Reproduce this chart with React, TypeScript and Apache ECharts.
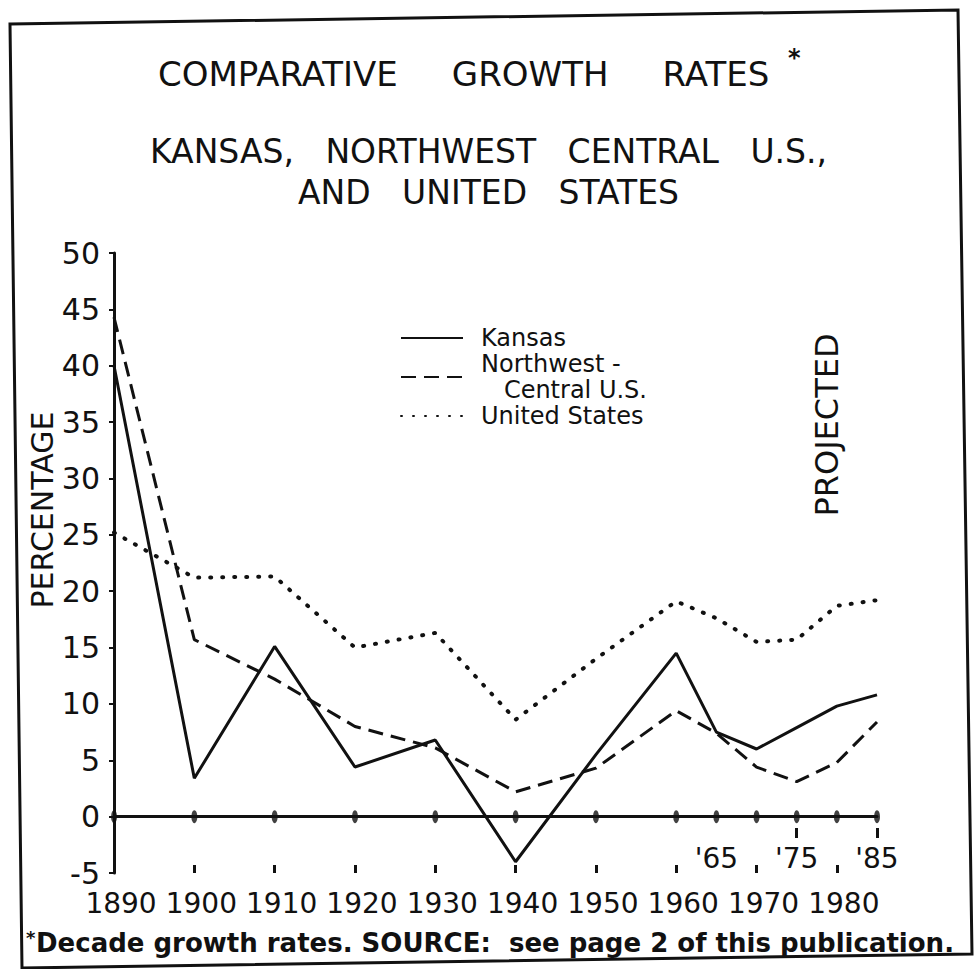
import React, { useEffect, useRef } from "react";
import * as echarts from "echarts";

// ---- data ----
const years = [1890, 1900, 1910, 1920, 1930, 1940, 1950, 1960, 1965, 1970, 1975, 1980, 1985];
const kansas = [40.0, 3.4, 15.1, 4.4, 6.8, -4.0, 5.5, 14.5, 7.5, 6.0, 7.9, 9.8, 10.8];
const nwCentral = [44.3, 15.7, 12.2, 8.0, 6.1, 2.2, 4.3, 9.4, 7.4, 4.4, 3.1, 4.8, 8.4];
const unitedStates = [25.2, 21.2, 21.3, 15.0, 16.3, 8.6, 14.0, 19.1, 17.6, 15.5, 15.7, 18.7, 19.2];
const seriesNames = ["Kansas", "Northwest -\n   Central U.S.", "United States"];
const decadeYears = [1890, 1900, 1910, 1920, 1930, 1940, 1950, 1960, 1970, 1980];
const projectedYears = [1965, 1975, 1985];
const projectedMarkYears = [1975, 1985];
const xMin = 1890;
const xMax = 1985;
const yMin = -5;
const yMax = 50;
const yStep = 5;
const titleText = "COMPARATIVE     GROWTH     RATES";
const subtitleText = "KANSAS,   NORTHWEST   CENTRAL   U.S.,\nAND   UNITED   STATES";
const yAxisTitle = "PERCENTAGE";
const projectedLabel = "PROJECTED";
const footnote = "Decade growth rates. SOURCE:  see page 2 of this publication.";

const ink = "#111";
const font = "DejaVu Sans";

export default function App() {
  const ref = useRef<HTMLDivElement>(null);

  useEffect(() => {
    if (!ref.current) return;
    const chart = echarts.init(ref.current, undefined, { renderer: "svg" });
    const pair = (vals: number[]) => years.map((y, i) => [y, vals[i]]);
    const baseX = {
      type: "value",
      min: xMin,
      max: xMax,
      position: "bottom",
      splitLine: { show: false },
    };
    const option: any = {
      animation: false,
      backgroundColor: "#fff",
      color: [ink, ink, ink],
      title: [
        {
          text: titleText,
          left: 153,
          top: 52,
          textStyle: { fontFamily: font, fontSize: 34, fontWeight: "normal", color: ink },
        },
        {
          text: subtitleText,
          left: "center",
          top: 126,
          textStyle: { fontFamily: font, fontSize: 33, fontWeight: "normal", color: ink, lineHeight: 41 },
        },
      ],
      grid: { left: 114, right: 100, top: 253, bottom: 96, containLabel: false },
      legend: {
        orient: "vertical",
        left: 400,
        top: 325,
        itemWidth: 62,
        itemHeight: 2,
        itemGap: 0,
        padding: 0,
        selectedMode: false,
        data: seriesNames,
        itemStyle: { opacity: 0 },
        textStyle: {
          fontFamily: font,
          fontSize: 24,
          color: ink,
          lineHeight: 26,
          padding: [0, 0, 0, 13],
        },
      },
      xAxis: [
        {
          ...baseX,
          axisLine: { show: true, onZero: true, lineStyle: { color: ink, width: 3 } },
          axisTick: { show: false },
          axisLabel: { show: false },
        },
        {
          ...baseX,
          axisLine: { show: false, onZero: false },
          axisTick: {
            show: true,
            inside: true,
            length: 8,
            customValues: decadeYears,
            lineStyle: { color: ink, width: 3 },
          },
          axisLabel: {
            customValues: decadeYears,
            fontFamily: font,
            fontSize: 28,
            color: ink,
            margin: 16,
            padding: [0, 0, 0, 14],
            formatter: (v: number) => String(v),
          },
        },
        {
          ...baseX,
          axisLine: { show: false, onZero: false },
          axisTick: { show: false },
          axisLabel: {
            inside: true,
            margin: 1,
            customValues: projectedYears,
            fontFamily: font,
            fontSize: 28,
            color: ink,
            formatter: (v: number) => "'" + String(v).slice(2),
          },
        },
        {
          ...baseX,
          offset: -35,
          axisLine: { show: false, onZero: false },
          axisTick: {
            show: true,
            inside: true,
            length: 10,
            customValues: projectedMarkYears,
            lineStyle: { color: ink, width: 3 },
          },
          axisLabel: { show: false },
        },
      ],
      yAxis: {
        type: "value",
        min: yMin,
        max: yMax,
        interval: yStep,
        position: "left",
        axisLine: { show: true, onZero: false, lineStyle: { color: ink, width: 3 } },
        axisTick: { show: true, length: 5, lineStyle: { color: ink, width: 2 } },
        axisLabel: { fontFamily: font, fontSize: 30, color: ink, margin: 14 },
        splitLine: { show: false },
      },
      series: [
        {
          name: seriesNames[0],
          type: "line",
          data: pair(kansas),
          symbol: "none",
          lineStyle: { color: ink, width: 3, type: "solid" },
          itemStyle: { color: ink },
          z: 3,
        },
        {
          name: seriesNames[1],
          type: "line",
          data: pair(nwCentral),
          symbol: "none",
          lineStyle: { color: ink, width: 3, type: [15, 8] },
          itemStyle: { color: ink },
          z: 3,
        },
        {
          name: seriesNames[2],
          type: "line",
          data: pair(unitedStates),
          symbol: "none",
          lineStyle: { color: ink, width: 4, type: [1, 11], cap: "round" },
          itemStyle: { color: ink },
          z: 3,
        },
        {
          type: "scatter",
          data: years.map((y) => [y, 0]),
          symbol: "circle",
          symbolSize: [6, 13],
          itemStyle: { color: ink },
          silent: true,
          z: 4,
        },
      ],
      graphic: [
        {
          type: "polygon",
          silent: true,
          shape: { points: [[10, 24], [958, 10], [972, 954], [22, 968]] },
          style: { fill: "none", stroke: ink, lineWidth: 3 },
        },
        {
          type: "text",
          x: 42,
          y: 510,
          rotation: Math.PI / 2,
          style: {
            text: yAxisTitle,
            fontFamily: font,
            fontSize: 30,
            fill: ink,
            align: "center",
            verticalAlign: "middle",
          },
        },
        {
          type: "text",
          x: 827,
          y: 425,
          rotation: Math.PI / 2,
          style: {
            text: projectedLabel,
            fontFamily: font,
            fontSize: 32,
            fill: ink,
            align: "center",
            verticalAlign: "middle",
          },
        },
        {
          type: "text",
          x: 788,
          y: 46,
          style: { text: "*", fontFamily: font, fontSize: 24, fontWeight: "bold", fill: ink },
        },
        {
          type: "text",
          x: 26,
          y: 928,
          style: { text: "*", fontFamily: font, fontSize: 18, fontWeight: "bold", fill: ink },
        },
        {
          type: "text",
          x: 36,
          y: 943,
          style: {
            text: footnote,
            fontFamily: font,
            fontSize: 26,
            fontWeight: "bold",
            fill: ink,
            align: "left",
            verticalAlign: "middle",
          },
        },
      ],
    };
    chart.setOption(option);
    return () => chart.dispose();
  }, []);

  return (
    <div
      ref={ref}
      style={{ position: "fixed", left: 0, top: 0, width: 977, height: 969, background: "#fff" }}
    />
  );
}
